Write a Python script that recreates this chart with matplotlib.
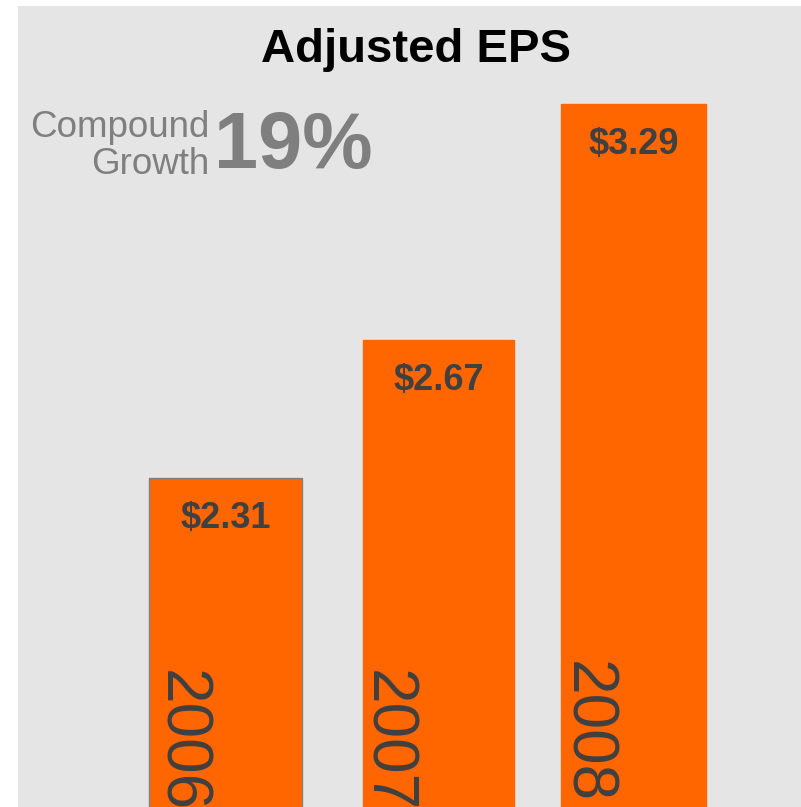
import matplotlib
matplotlib.use("Agg")
import matplotlib.pyplot as plt

plt.rcParams['font.family'] = ['Liberation Sans', 'DejaVu Sans']

# ---- data ----
years = ["2006", "2007", "2008"]
eps = [2.31, 2.67, 3.29]
eps_labels = ["$2.31", "$2.67", "$3.29"]
title = "Adjusted EPS"
growth_label = ["Compound", "Growth"]
growth_value = "19%"

# ---- layout (pixel units of the 801x807 canvas) ----
W, H = 801, 807
bar_centers = [225.5, 438.5, 633.5]
bar_widths = [153, 151, 145]
year_offsets = [(-62.5, 670), (-69.5, 670), (-64.5, 661)]  # x rel. to bar center, y px
ORANGE = "#ff6600"
DARK = "#404040"
GRAY = "#7f7f7f"
BG = "#e5e5e5"

fig = plt.figure(figsize=(W / 100, H / 100), dpi=100, facecolor="white")
ax = fig.add_axes([18 / W, 0, (W - 18) / W, (H - 6) / H])
ax.set_facecolor(BG)
for s in ax.spines.values():
    s.set_visible(False)
ax.set_xticks([])
ax.set_yticks([])

# y mapping: pixel y = 1358.5 - 381.3 * value
a, b = 1358.5, 381.3
ax.set_ylim((a - H) / b, (a - 6) / b)
ax.set_xlim(18, W)

edges = ["#808080", ORANGE, ORANGE]
bars = ax.bar(bar_centers, eps, width=bar_widths, color=ORANGE,
              edgecolor=edges, linewidth=1.0)


def fig_px(x, y):
    return x / W, 1 - y / H


# value labels
for xc, v, lab in zip(bar_centers, eps, eps_labels):
    ax.annotate(lab, xy=(xc, v), xytext=(0, -50 * 0.72), textcoords="offset points",
                ha="center", va="baseline", fontsize=26, fontweight="bold", color=DARK)

# year labels (rotated, running downward)
for xc, (dx, y), yr in zip(bar_centers, year_offsets, years):
    fx, fy = fig_px(xc + dx, y)
    fig.text(fx, fy, yr, rotation=270, rotation_mode="anchor", ha="left",
             va="baseline", fontsize=46, color=DARK)

# title
fx, fy = fig_px(416, 62)
fig.text(fx, fy, title, ha="center", va="baseline", fontsize=34,
         fontweight="bold", color="black")

# compound growth
fx, fy = fig_px(209, 137)
fig.text(fx, fy, growth_label[0], ha="right", va="baseline", fontsize=26.5, color=GRAY)
fx, fy = fig_px(209, 174)
fig.text(fx, fy, growth_label[1], ha="right", va="baseline", fontsize=26.5, color=GRAY)
fx, fy = fig_px(214, 168)
fig.text(fx, fy, growth_value, ha="left", va="baseline", fontsize=57,
         fontweight="bold", color=GRAY)

fig.savefig("out.png", dpi=100, facecolor="white")
